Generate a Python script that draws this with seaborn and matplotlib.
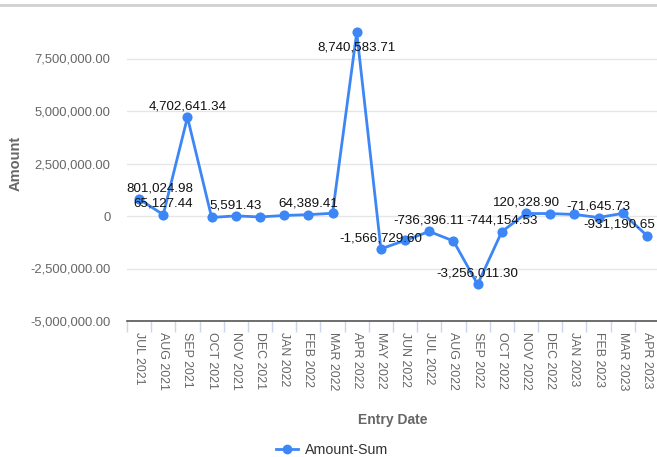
import numpy as np
import pandas as pd
import seaborn as sns
import matplotlib.pyplot as plt
from matplotlib.lines import Line2D
from matplotlib.ticker import FuncFormatter

# 데이터 (그림에서 읽은 값, 라벨이 숨겨진 점은 추정치)
months = ['JUL 2021', 'AUG 2021', 'SEP 2021', 'OCT 2021', 'NOV 2021', 'DEC 2021',
          'JAN 2022', 'FEB 2022', 'MAR 2022', 'APR 2022', 'MAY 2022', 'JUN 2022',
          'JUL 2022', 'AUG 2022', 'SEP 2022', 'OCT 2022', 'NOV 2022', 'DEC 2022',
          'JAN 2023', 'FEB 2023', 'MAR 2023', 'APR 2023']
amounts = [801024.98, 65127.44, 4702641.34, -70000, 5591.43, -45000,
           25000, 64389.41, 130000, 8740583.71, -1566729.60, -1160000,
           -736396.11, -1190000, -3256011.30, -744154.53, 120328.90, 115000,
           75000, -71645.73, 125000, -931190.65]
# 겹쳐서 숨겨진 라벨은 False
label_shown = [True, True, True, False, True, False,
               False, True, False, True, True, False,
               True, False, True, True, True, False,
               False, True, False, True]
y_ticks = [-5000000, -2500000, 0, 2500000, 5000000, 7500000]

df = pd.DataFrame({'Entry Date': months, 'Amount': amounts})
df['pos'] = np.arange(len(df))

blue = '#3d86f6'
grey_txt = '#666666'
plt.rcParams['font.family'] = ['Liberation Sans', 'DejaVu Sans']

fig = plt.figure(figsize=(6.57, 4.57), dpi=100)
W, H = 657, 457
# 플롯 영역 (픽셀 기준: 좌 127, 우 659, 위 6, 아래 321)
ax = fig.add_axes([127 / W, 1 - 321 / H, (659 - 127) / W, (321 - 6) / H])

sns.lineplot(data=df, x='pos', y='Amount', ax=ax, color=blue, linewidth=2,
             marker='o', markersize=7.3, markeredgewidth=0, zorder=3)

ax.set_xlim(-0.5, len(months) - 0.5)
ax.set_ylim(-5000000, 10000000)
ax.set_yticks(y_ticks)
ax.yaxis.set_major_formatter(FuncFormatter(lambda v, p: '0' if v == 0 else f'{v:,.2f}'))
ax.set_xticks(df['pos'])
ax.set_xticklabels(months, rotation=-90, fontsize=8.9, color=grey_txt, va='top', ha='center')
ax.set_xticks(np.arange(-0.5, len(months)), minor=True)

ax.grid(axis='y', color='#e6e6e6', linewidth=1)
ax.set_axisbelow(True)
for s in ['top', 'right', 'left']:
    ax.spines[s].set_visible(False)
ax.spines['bottom'].set_color('#555555')
ax.spines['bottom'].set_linewidth(1.2)
ax.tick_params(axis='y', length=0, labelsize=9.4, labelcolor=grey_txt, pad=12)
ax.tick_params(axis='x', which='major', length=0, pad=8)
ax.tick_params(axis='x', which='minor', length=8, color='#ccd6eb', width=1)

ax.set_xlabel('Entry Date', fontsize=10, fontweight='bold', color=grey_txt, labelpad=16)
ax.set_ylabel('Amount', fontsize=10.5, fontweight='bold', color=grey_txt, labelpad=5)

# 데이터 라벨
for i, (v, show) in enumerate(zip(amounts, label_shown)):
    if not show:
        continue
    txt = f'{v:,.2f}'
    dx, dy = 0, 7.8
    if i == 0:
        dx = 15
    if i == len(amounts) - 1:
        dx = -20
    if v == max(amounts):
        dy = -11
    ax.annotate(txt, (i, v), xytext=(dx, dy), textcoords='offset points',
                ha='center', va='center', fontsize=9.6, color='#111111', zorder=4)

# 범례
handle = Line2D([0], [0], color=blue, linewidth=2, marker='o', markersize=7, markeredgewidth=0)
fig.legend([handle], ['Amount-Sum'], loc='center', bbox_to_anchor=(332 / W, 1 - 450 / H),
           frameon=False, fontsize=10.3, handlelength=1.5, handletextpad=0.5,
           labelcolor='#333333')

# 위쪽 회색 테두리
fig.add_artist(Line2D([0, 1], [1 - 5 / H, 1 - 5 / H], color='#d0d0d0', linewidth=2))

plt.savefig('out.png', dpi=100)
